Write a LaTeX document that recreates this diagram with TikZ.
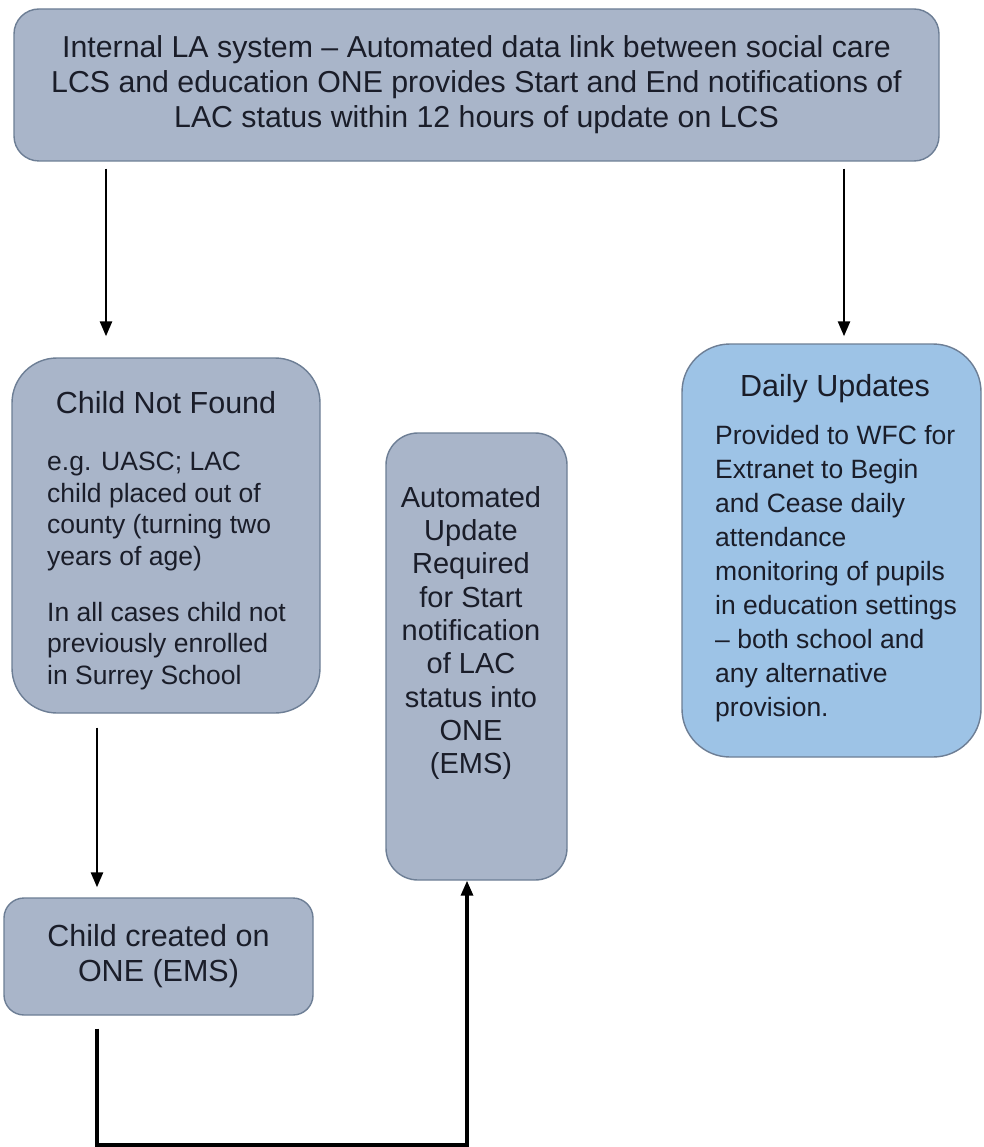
\documentclass[tikz,border=0pt]{standalone}
\usepackage{fontspec}
\setmainfont{Liberation Sans}
\usetikzlibrary{arrows.meta}
\definecolor{boxgrey}{HTML}{A9B5C9}
\definecolor{boxblue}{HTML}{9DC3E6}
\definecolor{edge}{HTML}{6D7E95}
\definecolor{ink}{HTML}{1A1D29}
\begin{document}
\begin{tikzpicture}[x=1pt,y=-1pt]
\tikzset{
  box/.style={draw=edge, line width=1.4pt, fill=boxgrey, inner sep=0pt, text=ink},
  bluebox/.style={box, fill=boxblue},
  title/.style={text=ink, inner sep=0pt, font=\fontsize{30.5}{32.5}\selectfont},
  body/.style={text=ink, inner sep=0pt, align=left},
  arr/.style={draw=black, line width=2.6pt, -{Triangle[width=12pt,length=15pt]}},
  arrthick/.style={draw=black, line width=3.2pt, line join=miter, -{Triangle[width=12pt,length=15pt]}}
}
\useasboundingbox[fill=white] (0,0) rectangle (983,1147);

% boxes
\node[box, rounded corners=25pt, minimum width=925pt, minimum height=152pt,
      align=center, font=\fontsize{30.3}{35}\selectfont] (top) at (476.5,85)
  {Internal LA system -- Automated data link between social care\\
   LCS and education ONE provides Start and End notifications of\\
   LAC status within 12 hours of update on LCS};

\node[box, rounded corners=45pt, minimum width=308pt, minimum height=355pt] (cnf) at (166,535.5) {};
\node[box, rounded corners=32pt, minimum width=181pt, minimum height=447pt] (auto) at (476.5,656.5) {};
\node[bluebox, rounded corners=48pt, minimum width=299pt, minimum height=413pt] (daily) at (831.5,550.5) {};
\node[box, rounded corners=20pt, minimum width=309pt, minimum height=117pt,
      align=center, font=\fontsize{30.5}{35}\selectfont] (created) at (158.5,956.5)
  {Child created on\\ONE (EMS)};

% texts inside the tall boxes
\node[title, anchor=base] (cnfT) at (166,413) {Child Not Found};
\node[body, anchor=north west, font=\fontsize{26.5}{31.5}\selectfont] (cnfA) at (47,452)
  {e.g. UASC; LAC\\child placed out of\\county (turning two\\years of age)};
\node[body, anchor=north west, font=\fontsize{26.5}{31.5}\selectfont] (cnfB) at (47,602)
  {In all cases child not\\previously enrolled\\in Surrey School};

\node[text=ink, inner sep=0pt, align=center, anchor=north, font=\fontsize{29}{33.3}\selectfont] (autoT) at (471,486)
  {Automated\\Update\\Required\\for Start\\notification\\of LAC\\status into\\ONE\\(EMS)};

\node[title, anchor=base] (dailyT) at (835,396) {Daily Updates};
\node[body, anchor=north west, font=\fontsize{26.5}{34}\selectfont] (dailyB) at (715,425)
  {Provided to WFC for\\Extranet to Begin\\and Cease daily\\attendance\\monitoring of pupils\\in education settings\\-- both school and\\any alternative\\provision.};

% connectors
\coordinate (xL) at (106,0);
\coordinate (xR) at (844,0);
\coordinate (xM) at (97,0);
\coordinate (xU) at (467,0);
\coordinate (yB) at (0,1145);

\draw[arr, shorten <=7pt, shorten >=21pt] (top.south -| xL) -- (cnf.north -| xL);
\draw[arr, shorten <=7pt, shorten >=7pt] (top.south -| xR) -- (daily.north -| xR);
\draw[arr, shorten <=14pt, shorten >=10pt] (cnf.south -| xM) -- (created.north -| xM);
\draw[arrthick, shorten <=13pt] (created.south -| xM) -- (yB -| xM) -- (yB -| xU) -- (auto.south -| xU);
\end{tikzpicture}
\end{document}
